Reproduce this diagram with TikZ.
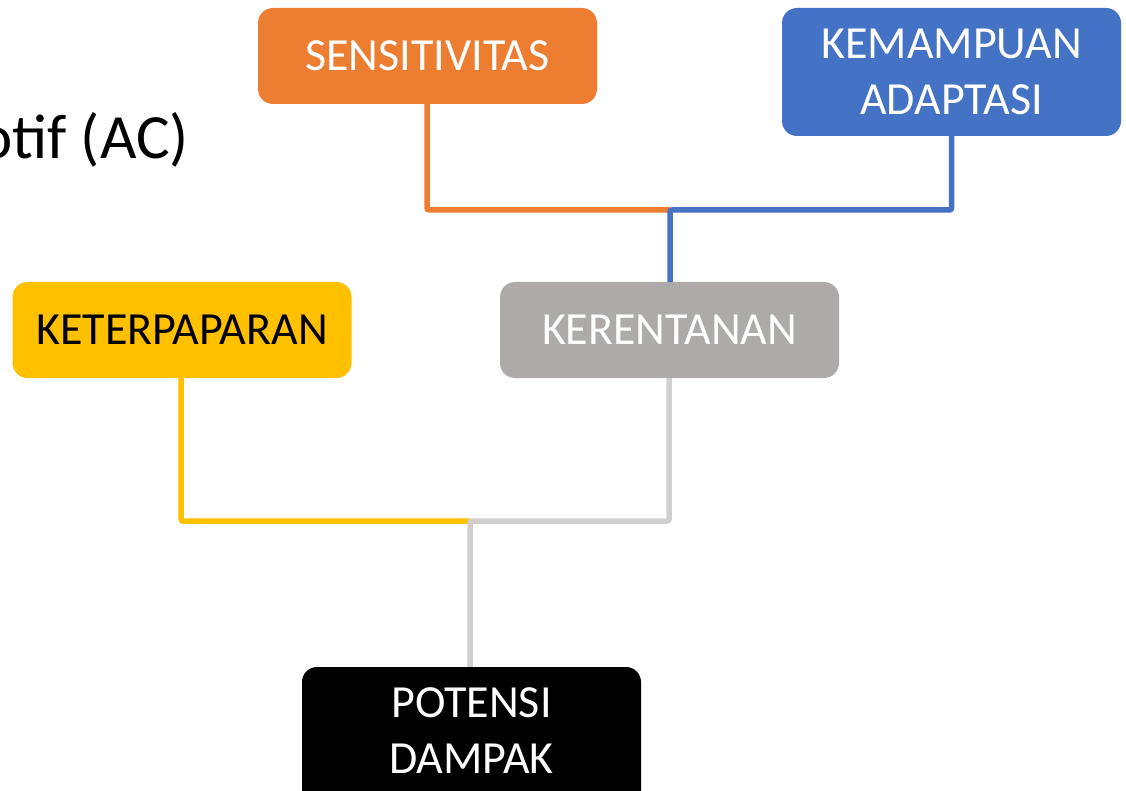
\documentclass[tikz,border=0pt]{standalone}
\usepackage{fontspec}
\setmainfont{Carlito}
\definecolor{corange}{HTML}{ED7D31}
\definecolor{cblue}{HTML}{4472C4}
\definecolor{cyellow}{HTML}{FFC000}
\definecolor{cgray}{HTML}{AEAAAA}
\definecolor{clight}{HTML}{D0CECE}
\begin{document}
\begin{tikzpicture}[x=1pt,y=-1pt,
  box/.style={rounded corners=15pt, minimum width=339pt, inner sep=0pt, align=center,
    font=\fontsize{46}{56}\selectfont},
  conn/.style={line width=5.5pt, rounded corners=2pt}]
\useasboundingbox (0,0) rectangle (1126,791);
\clip (0,0) rectangle (1126,791);
\fill[white] (0,0) rectangle (1126,791);
\node[anchor=base east, font=\fontsize{63}{70}\selectfont, inner sep=0pt] (title) at (189,159) {otif (AC)};
\node[box, fill=corange, text=white, minimum height=96pt] (sens) at (427.5,56) {SENSITIVITAS};
\node[box, fill=cblue, text=white, minimum height=128pt] (kemam) at (951.5,72) {KEMAMPUAN\\ADAPTASI};
\node[box, fill=cyellow, text=black, minimum height=96pt] (keter) at (182,330) {KETERPAPARAN};
\node[box, fill=cgray, text=white, minimum height=96pt] (keren) at (669.5,330) {KERENTANAN};
\node[box, fill=black, text=white, minimum height=150pt] (pot) at (471.5,742) {};
\node[text=white, align=center, font=\fontsize{46}{56}\selectfont, inner sep=0pt] (pottext) at (471.5,731) {POTENSI\\DAMPAK};
\coordinate (j1) at (670,210);
\coordinate (j2) at (470,521);
\draw[conn, corange] (sens.south -| 427,0) |- (j1);
\draw[conn, cblue] (kemam.south) |- (j1) -- (keren.north -| j1);
\draw[conn, cyellow] (keter.south -| 181,0) |- (j2);
\draw[conn, clight] (keren.south -| 669,0) |- (j2) -- (pot.north -| j2);
\end{tikzpicture}
\end{document}
